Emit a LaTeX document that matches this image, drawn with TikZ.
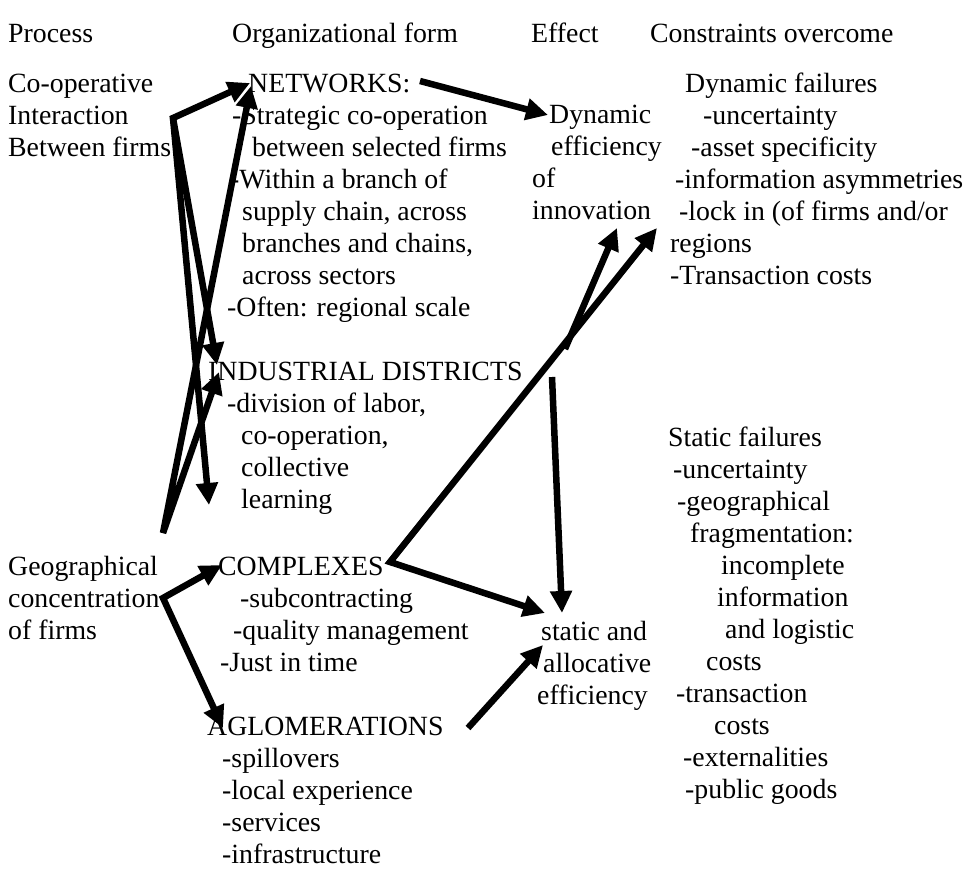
\documentclass[tikz,border=0pt]{standalone}
\usepackage{fontspec}
\setmainfont{Liberation Serif}
\usetikzlibrary{arrows.meta}

\tikzset{
  txt/.style={anchor=base west, inner sep=0pt, align=left,
    font=\fontsize{27.8}{32}\selectfont},
  flow/.style={line width=6.5pt,
    {Triangle[length=22pt,width=21pt]}-{Triangle[length=22pt,width=21pt]}},
  oneway/.style={line width=6.5pt, -{Triangle[length=22pt,width=21pt]}}
}
\newcommand{\ind}[1]{\hspace*{#1pt}}

\begin{document}
\begin{tikzpicture}[x=1pt, y=-1pt]
  \useasboundingbox (0,0) rectangle (972,870);

  % column heads
  \node[txt] (hproc) at (8,42) {Process};
  \node[txt] (horg) at (232,42) {Organizational form};
  \node[txt] (heff) at (531,42) {Effect};
  \node[txt] (hcons) at (650,42) {Constraints overcome};

  % process (nodes sit on the baseline of their last line)
  \node[txt] (coop) at (8,156) {Co-operative\\Interaction\\Between firms};
  \node[txt] (geo) at (8,639) {Geographical\\concentration\\of firms};

  % organizational forms
  \node[txt] (net) at (227,316) {\ind{21}NETWORKS:\\\ind{5}-Strategic co-operation\\
    \ind{25}between selected firms\\\ind{3}-Within a branch of\\
    \ind{15}supply chain, across\\\ind{15}branches and chains,\\
    \ind{15}across sectors\\-Often: regional scale};
  \node[txt] (dist) at (208,508) {INDUSTRIAL DISTRICTS\\\ind{19}-division of labor,\\
    \ind{33}co-operation,\\\ind{33}collective\\\ind{33}learning};
  \node[txt] (cplx) at (218,671) {COMPLEXES\\\ind{22}-subcontracting\\
    \ind{15}-quality management\\\ind{2}-Just in time};
  \node[txt] (aglo) at (207,863) {AGLOMERATIONS\\\ind{15}-spillovers\\
    \ind{15}-local experience\\\ind{15}-services\\\ind{15}-infrastructure};

  % effects
  \node[txt] (dyneff) at (532,219) {\ind{17}Dynamic\\\ind{19}efficiency\\of\\innovation};
  \node[txt] (stateff) at (537,704) {\ind{4}static and\\\ind{6}allocative\\efficiency};

  % constraints
  \node[txt] (dynfail) at (670,284) {\ind{15}Dynamic failures\\\ind{33}-uncertainty\\
    \ind{21}-asset specificity\\\ind{5}-information asymmetries\\
    \ind{9}-lock in (of firms and/or\\regions\\-Transaction costs};
  \node[txt] (statfail) at (668,798) {Static failures\\\ind{5}-uncertainty\\
    \ind{9}-geographical\\\ind{22}fragmentation:\\\ind{53}incomplete\\
    \ind{49}information\\\ind{57}and logistic\\\ind{38}costs\\
    \ind{8}-transaction\\\ind{46}costs\\\ind{15}-externalities\\\ind{17}-public goods};

  % arrow ends
  \coordinate (coopOut) at (173,118);
  \coordinate (geoUp) at (163,533);
  \coordinate (geoOut) at (163,598);
  \coordinate (netIn) at (250,83);
  \coordinate (netIn2) at (251,86);
  \coordinate (distIn) at (217,365);
  \coordinate (distIn2) at (219,372);
  \coordinate (learnIn) at (209,505);
  \coordinate (netOut) at (420,81);
  \coordinate (dynIn) at (548,115);
  \coordinate (cplxOut) at (390,562);
  \coordinate (split) at (565,349);
  \coordinate (innovIn) at (617,228);
  \coordinate (lockIn) at (657,228);
  \coordinate (midTop) at (552,377);
  \coordinate (statIn) at (545,613);
  \coordinate (statIn2) at (562,613);
  \coordinate (aglOut) at (468,728);
  \coordinate (allocIn) at (543,645);
  \coordinate (cplxIn) at (222,565);
  \coordinate (aglIn) at (223,728);

  \draw[flow] (netIn) -- (coopOut) -- (distIn);
  \draw[oneway] (coopOut) -- (learnIn);
  \draw[flow] (netIn2) -- (geoUp) -- (distIn2);
  \draw[oneway] (netOut) -- (dynIn);
  \draw[flow] (lockIn) -- (cplxOut) -- (statIn);
  \draw[oneway] (split) -- (innovIn);
  \draw[oneway] (midTop) -- (statIn2);
  \draw[oneway] (aglOut) -- (allocIn);
  \draw[flow] (cplxIn) -- (geoOut) -- (aglIn);
\end{tikzpicture}
\end{document}
